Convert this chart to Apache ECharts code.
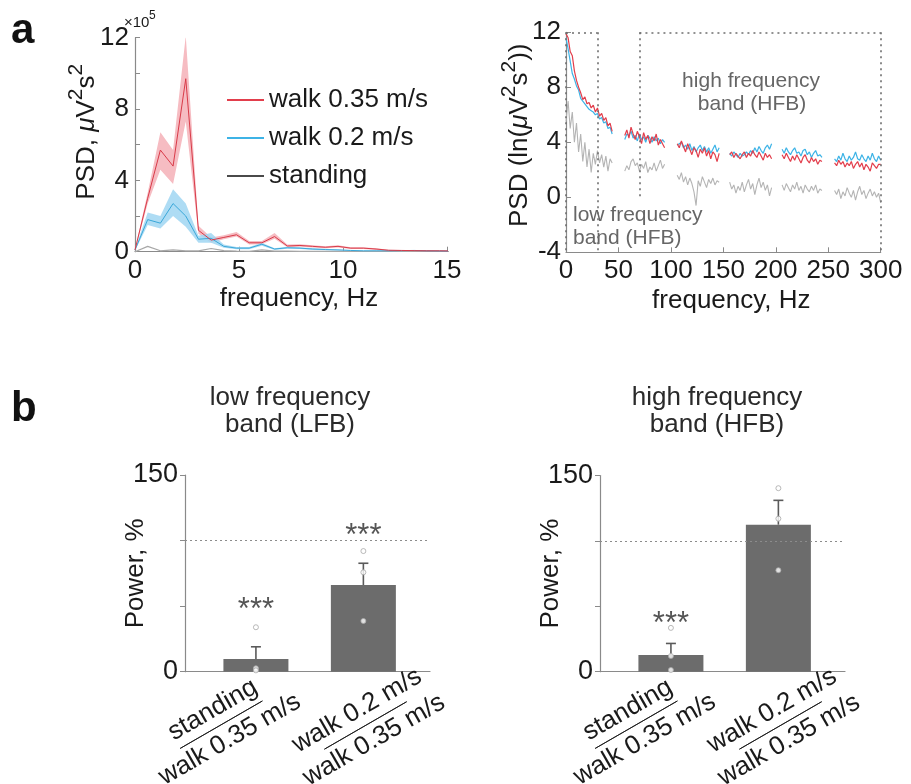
<!DOCTYPE html>
<html><head><meta charset="utf-8">
<script src="https://cdn.jsdelivr.net/npm/echarts@6/dist/echarts.min.js"></script>
<style>html,body{margin:0;padding:0;background:#fff}#c{width:911px;height:784px}</style>
</head><body><div id="c"></div>
<script>
const FONT = "'Liberation Sans', Arial, Helvetica, sans-serif";

// ---------- panel a (left): PSD 0-15 Hz, units x10^5 ----------
const freqLow = [0,0.61,1.22,1.83,2.44,3.05,3.66,4.27,4.88,5.49,6.10,6.71,7.32,7.93,8.54,9.15,9.76,10.37,10.98,11.59,12.20,12.81,13.42,14.03,14.64,15.25];
const walk035Mean = [0.1,3.0,5.7,4.8,9.7,1.2,0.65,0.8,0.95,0.5,0.5,0.85,0.32,0.35,0.3,0.25,0.3,0.2,0.2,0.15,0.08,0.07,0.06,0.05,0.05,0.04];
const walk035Lo   = [0.05,2.7,4.6,3.8,7.3,1.0,0.5,0.7,0.85,0.4,0.42,0.72,0.25,0.28,0.24,0.2,0.24,0.15,0.15,0.1,0.05,0.04,0.04,0.03,0.03,0.02];
const walk035Hi   = [0.15,3.3,6.7,5.7,12.1,1.45,0.8,0.92,1.1,0.6,0.6,1.05,0.4,0.42,0.36,0.3,0.36,0.25,0.25,0.2,0.11,0.1,0.08,0.07,0.07,0.06];
const walk02Mean  = [0.1,1.8,1.6,2.7,2.0,0.7,0.75,0.3,0.2,0.2,0.42,0.15,0.22,0.2,0.15,0.12,0.1,0.07,0.05,0.05,0.05,0.06,0.07,0.05,0.04,0.03];
const walk02Lo    = [0.05,1.5,1.3,2.0,1.4,0.5,0.5,0.22,0.14,0.14,0.34,0.1,0.17,0.15,0.1,0.08,0.07,0.05,0.03,0.03,0.03,0.04,0.05,0.03,0.02,0.02];
const walk02Hi    = [0.15,2.2,2.0,3.5,2.7,0.9,1.05,0.4,0.26,0.26,0.5,0.2,0.28,0.25,0.2,0.16,0.13,0.1,0.07,0.07,0.07,0.08,0.09,0.07,0.06,0.05];
const standingLow = [0.0,0.3,0.05,0.1,0.05,0.05,0.18,0.06,0.03,0.02,0.1,0.03,0.03,0.02,0.02,0.02,0.02,0.01,0.01,0.01,0.01,0.01,0.01,0.01,0.01,0.01];

// ---------- panel a (right): ln PSD 0-300 Hz, notch gaps at 50 Hz harmonics ----------
const hfSegmentStart = [0,56,106,156,206,256];
const hfStep = 2;
const walk035HF = [
  [11.9,11.6,10.6,10.3,9.2,8.5,8.0,7.6,7.1,7.3,6.8,6.9,6.5,6.7,6.2,6.5,5.9,6.1,5.6,5.8,5.2,5.4,4.8],
  [4.5,4.9,4.3,5.1,4.6,4.2,4.8,4.4,3.9,4.7,4.2,4.5,3.9,4.4,4.1,4.6,3.8,4.2,3.9,3.6],
  [3.9,3.6,4.1,3.7,3.3,3.9,3.5,3.1,3.6,3.4,2.9,3.5,3.2,3.6,3.0,3.4,2.8,3.3,3.1,2.6,3.2],
  [3.1,3.3,2.9,3.2,3.0,2.8,3.1,3.3,2.9,3.2,3.0,3.4,3.1,2.9,3.3,3.0,2.7,3.2,2.9,3.1,2.8],
  [3.1,2.8,3.2,2.9,2.6,3.0,2.7,3.1,2.8,2.5,2.9,3.1,2.7,2.5,2.9,2.6,2.8,2.4,2.7,2.6],
  [2.5,2.3,2.7,2.4,2.6,2.2,2.5,2.3,2.6,2.1,2.4,2.6,2.2,2.5,2.0,2.4,2.2,1.9,2.5,2.3,2.1,2.4,2.4]
];
const walk02HF = [
  [11.6,10.8,9.9,9.0,8.6,8.1,7.8,7.2,7.0,6.8,6.6,6.4,6.3,6.2,6.0,6.1,5.7,5.8,5.4,5.5,5.0,5.1,4.6],
  [4.2,4.6,4.5,4.8,4.3,4.5,4.1,4.6,4.2,4.4,4.0,4.5,4.3,4.0,4.4,4.1,4.3,3.9,4.2,4.0],
  [3.8,3.9,4.0,3.6,3.8,3.5,3.9,3.4,3.7,3.3,3.6,3.8,3.4,3.7,3.3,3.6,3.2,3.5,3.8,3.3,3.6],
  [3.2,3.0,3.3,3.1,2.9,3.2,3.0,3.1,3.3,3.1,3.4,3.2,3.6,3.3,3.7,3.4,3.2,3.6,3.8,3.5,3.9],
  [3.5,3.2,3.6,3.3,3.1,3.4,3.6,3.2,3.3,3.0,3.4,3.5,3.1,3.3,2.9,3.2,3.4,3.0,3.1,2.9],
  [2.8,2.6,3.0,2.7,3.2,2.8,2.6,3.0,2.7,2.9,3.3,2.8,2.7,3.1,2.8,2.6,3.0,2.7,3.2,2.8,2.6,3.0,2.7]
];
const standingHF = [
  [5.5,7.0,5.0,6.2,4.0,5.4,3.3,4.6,2.6,4.0,2.2,3.5,1.8,3.2,2.4,3.4,2.5,3.1,2.2,3.0,1.9,2.8,2.5],
  [1.9,2.3,2.0,2.6,2.8,2.3,2.5,1.9,2.4,2.1,2.6,1.8,2.2,2.0,2.5,1.9,2.3,2.7,2.1,2.4],
  [1.6,1.3,1.8,1.1,1.5,0.9,1.4,1.0,0.4,-0.6,1.2,0.8,1.5,1.1,0.7,1.3,1.0,1.4,0.9,1.2,1.1],
  [1.1,0.6,0.9,0.3,0.8,0.5,1.1,0.4,0.9,1.3,0.6,1.0,0.2,0.9,1.4,0.7,1.1,0.5,0.9,0.1,0.7],
  [0.9,0.5,1.0,0.7,0.4,0.9,0.6,1.1,0.5,0.8,0.3,0.9,0.6,0.4,0.8,0.5,0.9,0.3,0.6,0.5],
  [0.5,0.2,0.6,-0.1,0.4,0.1,0.7,0.3,0.0,0.5,-0.2,0.4,0.8,0.2,0.5,-0.1,0.3,0.6,0.1,0.4,0.0,0.3,-0.4]
];
const lfbBand = [0, 30];     // Hz, low frequency box
const hfbBand = [70, 300];   // Hz, high frequency box
const hfbBoxBottom = 0;      // left edge of HFB box ends at this y

// ---------- panel b ----------
const barLabels = [['standing','walk 0.35 m/s'], ['walk 0.2 m/s','walk 0.35 m/s']];
const lfbMean   = [9.7, 66.1];
const lfbErrTop = [19, 82.7];
const lfbPoints = [[33.9, 2.6, 1.0], [92, 75.8, 38.7]];
const lfbStars  = [[0, 47], [1, 103]];
const hfbMean   = [12.7, 112.4];
const hfbErrTop = [21.6, 131];
const hfbPoints = [[33.5, 12, 1.3], [140.3, 117, 77.6]];
const hfbStars  = [[0, 36]];
const refLevel  = 100;

// ---------- helpers ----------
const pairs = (xs, ys) => xs.map((x, i) => [x, ys[i]]);
function hfPairs(segs) {
  const out = [];
  segs.forEach((seg, k) => {
    if (k > 0) out.push([hfSegmentStart[k] - 4, '-']);
    seg.forEach((v, j) => out.push([hfSegmentStart[k] + j * hfStep, v]));
  });
  return out;
}
const RED = '#e23e4c', BLUE = '#3db3e6', AX = '#8a8a8a', TXT = '#1a1a1a';

const axisCommon = {
  axisLine: { onZero: false, lineStyle: { color: AX, width: 1.2 } },
  axisTick: { inside: true, length: 5, lineStyle: { color: AX } },
  axisLabel: { color: TXT, fontSize: 26, fontFamily: FONT, hideOverlap: false },
  splitLine: { show: false },
  nameMoveOverlap: false,
  nameTextStyle: { color: TXT, fontSize: 26, fontFamily: FONT }
};
function ax(extra) {
  const o = JSON.parse(JSON.stringify(axisCommon));
  for (const k in extra) {
    if (typeof extra[k] === 'object' && !Array.isArray(extra[k]) && o[k]) Object.assign(o[k], extra[k]);
    else o[k] = extra[k];
  }
  return o;
}
const supRich = {
  t: { fontSize: 26, fontFamily: FONT, color: TXT, verticalAlign: 'bottom', lineHeight: 34 },
  mu: { fontSize: 26, fontFamily: FONT, color: TXT, fontStyle: 'italic', verticalAlign: 'bottom', lineHeight: 34 },
  s: { fontSize: 21, fontFamily: FONT, color: TXT, verticalAlign: 'top', lineHeight: 34 }
};
const labelRich = {
  n: { fontSize: 26, fontFamily: FONT, color: TXT, lineHeight: 28, align: 'center' },
  hr: { borderColor: TXT, borderWidth: 0.8, width: 95, height: 0, lineHeight: 6, align: 'center' },
  d: { fontSize: 26, fontFamily: FONT, color: TXT, lineHeight: 28, align: 'center' }
};

function bandSeries(lo, hi, fill) {
  return {
    type: 'custom', xAxisIndex: 0, yAxisIndex: 0, z: 1, silent: true, clip: true,
    data: freqLow.map((f, i) => [f, lo[i], hi[i]]),
    renderItem: (params, api) => {
      if (params.dataIndex !== 0) return null;
      const pts = [];
      freqLow.forEach((f, i) => pts.push(api.coord([f, lo[i]])));
      for (let i = freqLow.length - 1; i >= 0; i--) pts.push(api.coord([freqLow[i], hi[i]]));
      return { type: 'polygon', shape: { points: pts }, style: { fill: fill } };
    }
  };
}

function errSeries(xi, yi, means, tops) {
  return {
    type: 'custom', xAxisIndex: xi, yAxisIndex: yi, z: 5, silent: true,
    data: means.map((m, i) => [i, m, tops[i]]),
    renderItem: (params, api) => {
      const p0 = api.coord([api.value(0), api.value(1)]);
      const p1 = api.coord([api.value(0), api.value(2)]);
      const st = { stroke: '#5a5a5a', lineWidth: 1.6 };
      return { type: 'group', children: [
        { type: 'line', shape: { x1: p0[0], y1: p0[1], x2: p1[0], y2: p1[1] }, style: st },
        { type: 'line', shape: { x1: p1[0] - 5, y1: p1[1], x2: p1[0] + 5, y2: p1[1] }, style: st }
      ]};
    }
  };
}
function barSet(xi, yi, means, tops, pts, stars) {
  const flat = [];
  pts.forEach((arr, i) => arr.forEach(v => flat.push([i, v])));
  return [
    { type: 'bar', xAxisIndex: xi, yAxisIndex: yi, barWidth: 65, z: 2, silent: true,
      itemStyle: { color: '#6c6c6c' }, data: means.map((m, i) => [i, m]),
      markLine: { silent: true, symbol: 'none', label: { show: false },
        lineStyle: { type: [2, 3], color: '#8c8c8c', width: 1 }, data: [{ yAxis: refLevel }] } },
    errSeries(xi, yi, means, tops),
    { type: 'scatter', xAxisIndex: xi, yAxisIndex: yi, z: 6, silent: true, symbolSize: 5,
      itemStyle: { color: '#ffffff', borderColor: '#a8a8a8', borderWidth: 1 }, data: flat },
    { type: 'scatter', xAxisIndex: xi, yAxisIndex: yi, z: 7, silent: true, symbolSize: 0,
      label: { show: true, position: 'inside', formatter: '***', fontSize: 31, fontFamily: FONT, color: '#2a2a2a' },
      data: stars }
  ];
}
// one x axis per category label (each label is a big rotated fraction block)
function barXAxis(gi, catIndex, margin, padRight, showLine) {
  return ax({
    type: 'value', gridIndex: gi, position: 'bottom', offset: 0, min: -0.66, max: 1.62,
    axisLine: { show: showLine },
    axisTick: { show: false },
    axisLabel: { customValues: [catIndex], rotate: 30, align: 'center', margin: margin, padding: [0, padRight, 0, 0],
      formatter: v => { const l = barLabels[Math.round(v)]; return '{n|' + l[0] + '}\n{hr|}\n{d|' + l[1] + '}'; },
      rich: labelRich }
  });
}
function barYAxis(gi) {
  return ax({
    type: 'value', gridIndex: gi, min: 0, max: 150, interval: 50,
    axisTick: { inside: false, length: 5 },
    axisLabel: { fontSize: 27, margin: 7, formatter: v => (v === 0 || v === 150) ? String(v) : '' },
    name: 'Power, %', nameLocation: 'middle', nameGap: 36
  });
}

const boxLine = { type: [2, 4], color: '#6e6e6e', width: 1.6 };

const option = {
  animation: false,
  textStyle: { fontFamily: FONT },
  grid: [
    { left: 135, top: 37.7, width: 312, height: 214, outerBoundsMode: 'none', containLabel: false },
    { left: 566, top: 32.3, width: 314.7, height: 220, outerBoundsMode: 'none', containLabel: false },
    { left: 185, top: 475, width: 245, height: 196.7, outerBoundsMode: 'none', containLabel: false },
    { left: 600, top: 475.5, width: 245, height: 196.2, outerBoundsMode: 'none', containLabel: false }
  ],
  legend: {
    left: 222, top: 82, orient: 'vertical', itemWidth: 37, itemHeight: 2, itemGap: 12, icon: 'rect',
    selectedMode: false,
    textStyle: { fontSize: 26, color: TXT, fontFamily: FONT },
    data: [
      { name: 'walk 0.35 m/s', itemStyle: { color: RED } },
      { name: 'walk 0.2 m/s', itemStyle: { color: BLUE } },
      { name: 'standing', itemStyle: { color: '#4a4a4a' } }
    ]
  },
  xAxis: [
    ax({ type: 'value', gridIndex: 0, min: 0, max: 15, interval: 5, axisLabel: { margin: 6 },
      name: 'frequency, Hz', nameLocation: 'middle', nameGap: 34, nameTextStyle: { padding: [0, 0, 0, 16] } }),
    ax({ type: 'value', gridIndex: 1, min: 0, max: 300, interval: 50, axisLabel: { margin: 6 },
      name: 'frequency, Hz', nameLocation: 'middle', nameGap: 36, nameTextStyle: { padding: [0, 0, 0, 16] } }),
    barXAxis(2, 0, 33, 80, true), barXAxis(2, 1, 55, -5, false),
    barXAxis(3, 0, 33, 80, true), barXAxis(3, 1, 55, -5, false)
  ],
  yAxis: [
    ax({ type: 'value', gridIndex: 0, min: 0, max: 12, interval: 2, axisLabel: { margin: 6, formatter: v => v % 4 === 0 ? String(v) : '' },
      name: '{t|PSD, }{mu|μ}{t|V}{s|2}{t|s}{s|2}', nameLocation: 'middle', nameGap: 35,
      nameTextStyle: { rich: supRich, padding: [0, 0, 0, 26] } }),
    ax({ type: 'value', gridIndex: 1, min: -4, max: 12, interval: 4, axisLabel: { margin: 5 },
      name: '{t|PSD (ln(}{mu|μ}{t|V}{s|2}{t|s}{s|2}{t|))}', nameLocation: 'middle', nameGap: 33,
      nameTextStyle: { rich: supRich, padding: [0, 0, 0, 14] } }),
    barYAxis(2), barYAxis(3)
  ],
  series: [
    bandSeries(walk035Lo, walk035Hi, '#f6bcc2'),
    bandSeries(walk02Lo, walk02Hi, 'rgba(160,214,242,0.85)'),
    { type: 'line', name: 'standing', xAxisIndex: 0, yAxisIndex: 0, symbol: 'none', z: 3,
      itemStyle: { color: '#a8a8a8' }, lineStyle: { color: '#a8a8a8', width: 1.2 }, data: pairs(freqLow, standingLow) },
    { type: 'line', name: 'walk 0.2 m/s', xAxisIndex: 0, yAxisIndex: 0, symbol: 'none', z: 4,
      itemStyle: { color: BLUE }, lineStyle: { color: '#3aa7d8', width: 1 }, data: pairs(freqLow, walk02Mean) },
    { type: 'line', name: 'walk 0.35 m/s', xAxisIndex: 0, yAxisIndex: 0, symbol: 'none', z: 5,
      itemStyle: { color: RED }, lineStyle: { color: '#d83a48', width: 1 }, data: pairs(freqLow, walk035Mean) },
    { type: 'line', name: 'standing_hf', xAxisIndex: 1, yAxisIndex: 1, symbol: 'none', connectNulls: false, silent: true,
      lineStyle: { color: '#b4b4b4', width: 1.1 }, data: hfPairs(standingHF),
      markLine: { silent: true, symbol: 'none', label: { show: false }, lineStyle: boxLine, data: [
        [{ coord: [lfbBand[0], 12] }, { coord: [lfbBand[1], 12] }],
        [{ coord: [lfbBand[0], 12] }, { coord: [lfbBand[0], -4] }],
        [{ coord: [lfbBand[1], 12] }, { coord: [lfbBand[1], -4] }],
        [{ coord: [hfbBand[0], 12] }, { coord: [hfbBand[1], 12] }],
        [{ coord: [hfbBand[0], 12] }, { coord: [hfbBand[0], hfbBoxBottom] }],
        [{ coord: [hfbBand[1], 12] }, { coord: [hfbBand[1], -4] }]
      ] } },
    { type: 'line', name: 'walk02_hf', xAxisIndex: 1, yAxisIndex: 1, symbol: 'none', connectNulls: false, silent: true,
      lineStyle: { color: BLUE, width: 1.2 }, data: hfPairs(walk02HF) },
    { type: 'line', name: 'walk035_hf', xAxisIndex: 1, yAxisIndex: 1, symbol: 'none', connectNulls: false, silent: true,
      lineStyle: { color: RED, width: 1.2 }, data: hfPairs(walk035HF) },
    ...barSet(2, 2, lfbMean, lfbErrTop, lfbPoints, lfbStars),
    ...barSet(4, 3, hfbMean, hfbErrTop, hfbPoints, hfbStars)
  ],
  graphic: [
    { type: 'text', left: 11, top: 10, style: { text: 'a', font: "bold 42px " + FONT, fill: '#111' } },
    { type: 'text', left: 11, top: 388, style: { text: 'b', font: "bold 42px " + FONT, fill: '#111' } },
    { type: 'text', x: 124, y: 23, style: { text: '×10', font: "15px " + FONT, fill: TXT, verticalAlign: 'middle' } },
    { type: 'text', x: 149, y: 16, style: { text: '5', font: "12px " + FONT, fill: TXT, verticalAlign: 'middle' } },
    { type: 'text', x: 751, y: 81, style: { text: 'high frequency', font: "21px " + FONT, fill: '#666', align: 'center', verticalAlign: 'middle' } },
    { type: 'text', x: 752, y: 104, style: { text: 'band (HFB)', font: "21px " + FONT, fill: '#666', align: 'center', verticalAlign: 'middle' } },
    { type: 'text', x: 573, y: 215, style: { text: 'low frequency', font: "21px " + FONT, fill: '#666', align: 'left', verticalAlign: 'middle' } },
    { type: 'text', x: 573, y: 238, style: { text: 'band (HFB)', font: "21px " + FONT, fill: '#666', align: 'left', verticalAlign: 'middle' } },
    { type: 'text', x: 290, y: 398, style: { text: 'low frequency', font: "26px " + FONT, fill: '#2a2a2a', align: 'center', verticalAlign: 'middle' } },
    { type: 'text', x: 290, y: 425, style: { text: 'band (LFB)', font: "26px " + FONT, fill: '#2a2a2a', align: 'center', verticalAlign: 'middle' } },
    { type: 'text', x: 717, y: 398, style: { text: 'high frequency', font: "26px " + FONT, fill: '#2a2a2a', align: 'center', verticalAlign: 'middle' } },
    { type: 'text', x: 717, y: 425, style: { text: 'band (HFB)', font: "26px " + FONT, fill: '#2a2a2a', align: 'center', verticalAlign: 'middle' } }
  ]
};
const chart = echarts.init(document.getElementById('c'), null, { renderer: 'canvas' });
chart.setOption(option);
</script>
</body></html>
